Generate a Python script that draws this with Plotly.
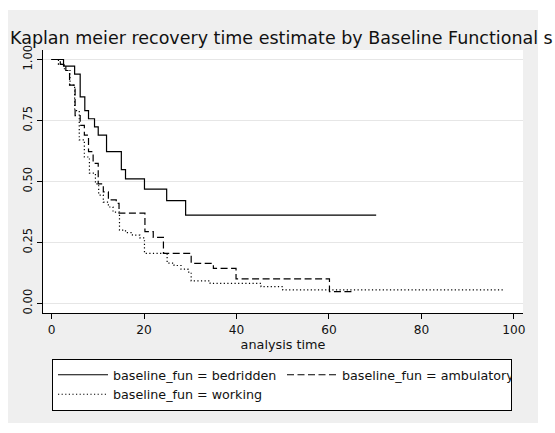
import plotly.graph_objects as go

# Kaplan-Meier survival estimates (step functions) by baseline functional status
bedridden_t = [0, 2.6, 5.0, 6.2, 7.2, 8.0, 9.3, 10.1, 11.9, 15.1, 16.0, 20.1, 24.9, 29.0, 70.2]
bedridden_s = [1.00, 0.973, 0.94, 0.847, 0.79, 0.757, 0.724, 0.69, 0.622, 0.548, 0.51, 0.468, 0.421, 0.362, 0.362]

ambulatory_t = [0, 1.9, 3.1, 3.9, 5.1, 6.2, 7.1, 8.0, 9.0, 10.1, 11.2, 12.3, 14.0, 14.6,
                20.2, 22.0, 24.2, 30.2, 35.0, 39.9, 60.1, 65.0]
ambulatory_s = [1.00, 0.98, 0.955, 0.895, 0.77, 0.73, 0.69, 0.622, 0.574, 0.49, 0.457, 0.424, 0.41, 0.37,
                0.294, 0.27, 0.205, 0.164, 0.143, 0.10, 0.048, 0.048]

working_t = [0, 1.5, 2.8, 4.0, 5.0, 6.0, 7.1, 8.2, 9.5, 10.2, 11.2, 12.3, 13.3, 14.7, 16.0, 17.5,
             19.1, 20.1, 25.0, 26.5, 28.0, 29.5, 30.2, 34.3, 45.3, 50.0, 97.8]
working_s = [1.00, 0.98, 0.955, 0.895, 0.79, 0.67, 0.60, 0.534, 0.49, 0.444, 0.415, 0.395, 0.374, 0.30,
             0.29, 0.28, 0.268, 0.205, 0.165, 0.155, 0.14, 0.128, 0.092, 0.082, 0.068, 0.055, 0.055]

series = [
    ("baseline_fun = bedridden", bedridden_t, bedridden_s, "solid"),
    ("baseline_fun = ambulatory", ambulatory_t, ambulatory_s, "7px,3.5px"),
    ("baseline_fun = working", working_t, working_s, "1.2px,2.4px"),
]

x_ticks = [0, 20, 40, 60, 80, 100]
y_ticks = [0, 0.25, 0.5, 0.75, 1.0]
y_ticktext = ["0.00", "0.25", "0.50", "0.75", "1.00"]

# the graph is cropped on the right, so only the start of the last word shows
TITLE = "Kaplan meier recovery time estimate by Baseline Functional s"

FONT = "DejaVu Sans"
INK = "#111111"
REGION = "#efefef"

fig = go.Figure()
for name, t, s, dash in series:
    fig.add_trace(go.Scatter(
        x=t, y=s, name=name, mode="lines",
        line=dict(color="black", width=1.2, dash=dash, shape="hv"),
        hoverinfo="skip",
    ))

fig.update_layout(
    width=555, height=433,
    margin=dict(l=43, r=32, t=50, b=120, autoexpand=False),
    paper_bgcolor="white",
    plot_bgcolor="white",
    font=dict(family=FONT, color=INK, size=12),
    title=dict(
        text=TITLE,
        font=dict(family=FONT, size=17.5, color=INK),
        xref="container", yref="container",
        x=10 / 555, xanchor="left",
        y=1 - 38 / 433, yanchor="middle",
    ),
    shapes=[
        # light grey graph region and white plot region
        dict(type="rect", xref="paper", yref="paper", layer="below",
             x0=-0.0729, x1=1.0313, y0=-0.4183, y1=1.1521,
             fillcolor=REGION, line=dict(width=0)),
        dict(type="rect", xref="paper", yref="paper", layer="below",
             x0=0, x1=1, y0=0, y1=1,
             fillcolor="white", line=dict(width=0)),
    ],
    legend=dict(
        orientation="h",
        x=0.01875, y=-0.1749, xanchor="left", yanchor="top",
        bgcolor="white", bordercolor="black", borderwidth=1,
        font=dict(family=FONT, size=12.7, color=INK),
        entrywidth=164, itemwidth=50,
        tracegroupgap=0,
    ),
    showlegend=True,
)

fig.update_xaxes(
    range=[-1.84, 101.95],
    tickvals=x_ticks,
    ticks="outside", ticklen=5, tickwidth=1, tickcolor="black",
    showline=True, linecolor="black", linewidth=1,
    showgrid=False, zeroline=False,
    tickfont=dict(family=FONT, size=12.2, color=INK),
    title=dict(text="analysis time", font=dict(family=FONT, size=12.8, color=INK), standoff=2),
)
fig.update_yaxes(
    range=[-0.0398, 1.039],
    tickvals=y_ticks, ticktext=y_ticktext,
    tickangle=-90,
    ticks="outside", ticklen=5, tickwidth=1, tickcolor="black",
    showline=True, linecolor="black", linewidth=1,
    showgrid=True, gridcolor="#e6e6e6", gridwidth=1,
    zeroline=False,
    tickfont=dict(family=FONT, size=11.5, color=INK),
)

fig.write_html("out.html")
